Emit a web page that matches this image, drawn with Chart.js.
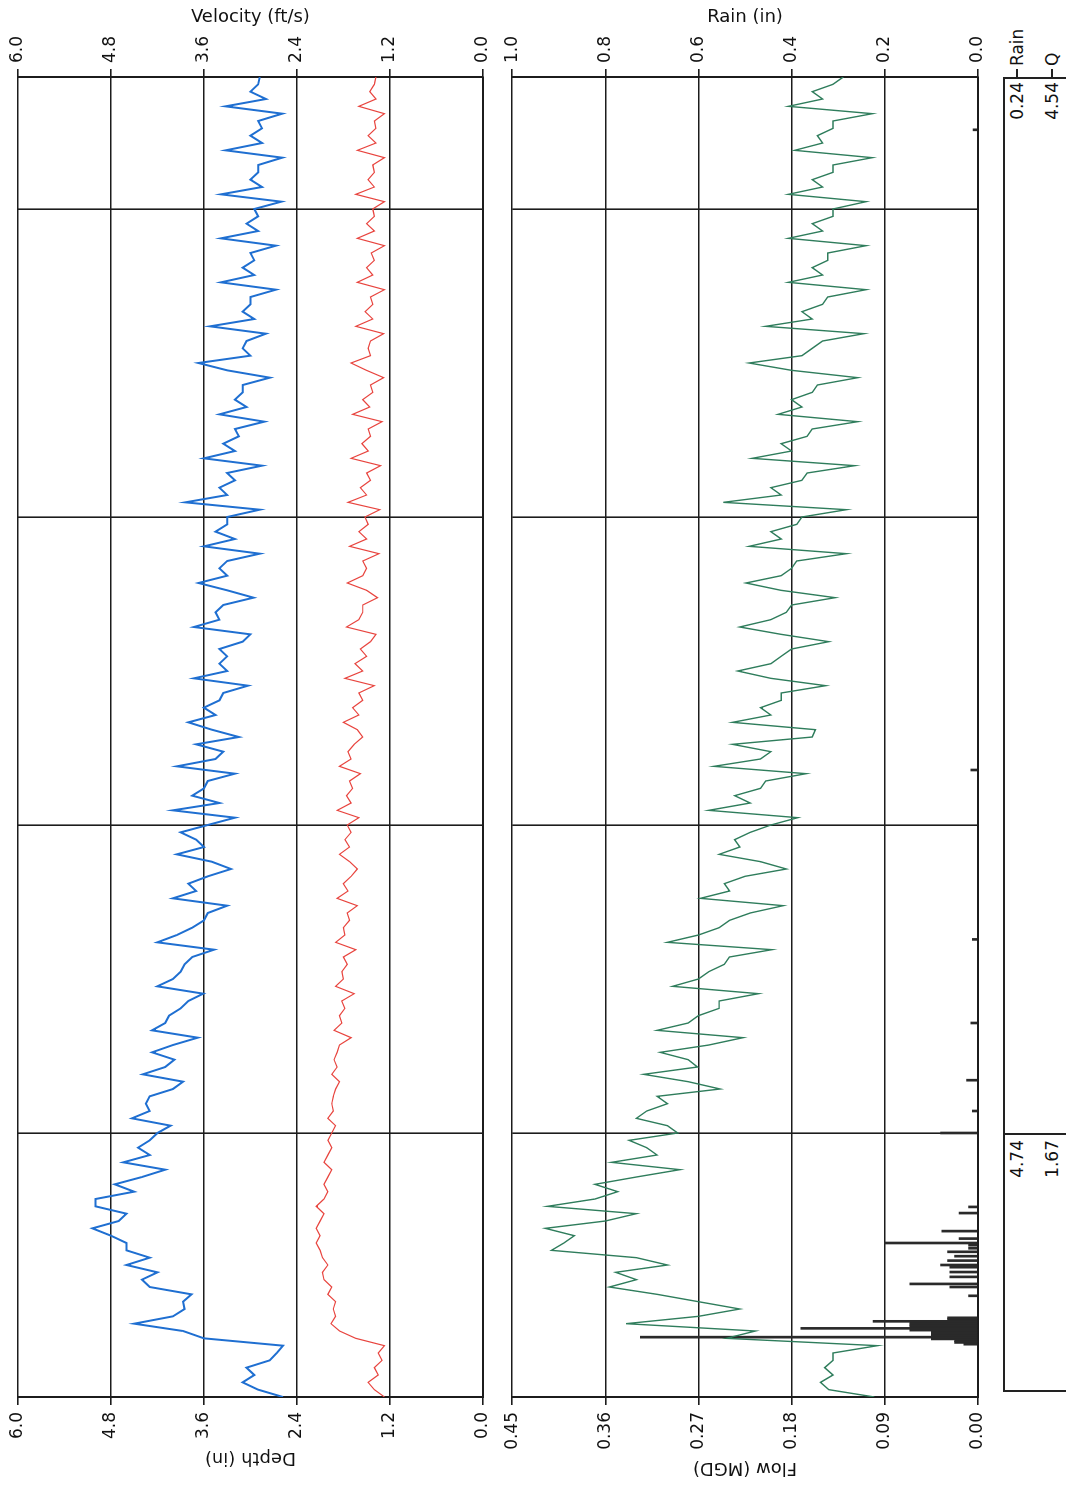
<!DOCTYPE html>
<html>
<head>
<meta charset="utf-8">
<script src="https://cdn.jsdelivr.net/npm/chart.js@4.4.1/dist/chart.umd.min.js"></script>
<style>
html, body { margin:0; padding:0; background:#fff; overflow:hidden; }
/* the scan is rotated: draw it landscape, then turn the whole page */
#page { position:absolute; left:0; top:0; width:1487px; height:1066px; transform-origin:0 0; transform:translateY(1487px) rotate(-90deg); background:#fff; overflow:hidden; }
#top, #bottom { position:absolute; left:0; }
#top { top:0; }
#bottom { top:495px; }
#totals { position:absolute; left:95px; top:1003px; width:1315px; height:90px; border:2px solid #222; box-sizing:border-box; }
#divider { position:absolute; left:352px; top:1003px; width:2px; height:70px; background:#222; }
.txt { position:absolute; font:17px "DejaVu Sans", sans-serif; color:#111; line-height:20px; white-space:nowrap; }
.r { text-align:right; width:70px; }
.tk { position:absolute; height:2px; width:8px; background:#222; }
</style>
</head>
<body>
<div id="page">
  <div id="top"><canvas id="depthChart" width="1487" height="500"></canvas></div>
  <div id="bottom"><canvas id="flowChart" width="1487" height="500"></canvas></div>
  <div id="totals"></div>
  <div id="divider"></div>
  <div class="txt r" style="left:277px;top:1007px">4.74</div>
  <div class="txt r" style="left:277px;top:1042px">1.67</div>
  <div class="txt r" style="left:1335px;top:1007px">0.24</div>
  <div class="txt r" style="left:1335px;top:1042px">4.54</div>
  <div class="tk" style="left:1410px;top:1016px"></div>
  <div class="tk" style="left:1410px;top:1051px"></div>
  <div class="txt" style="left:1421px;top:1007px">Rain</div>
  <div class="txt" style="left:1421px;top:1042px">Q</div>
</div>
<script>
// samples every 4 hours, day 0 .. day 30
var sampleHours = 4;
var weekTicks = [6, 13, 20, 27];

var depthTicks = [0, 1.2, 2.4, 3.6, 4.8, 6.0];
var flowTicks = [0, 0.09, 0.18, 0.27, 0.36, 0.45];
var rainTicks = [0, 0.2, 0.4, 0.6, 0.8, 1.0];

var depth = [
  2.58, 2.9, 3.1, 2.95, 3.05, 2.75,
  2.66, 2.58, 3.6, 3.87, 4.5, 4.0,
  3.85, 3.87, 3.76, 4.3, 4.4, 4.2,
  4.6, 4.3, 4.6, 4.6, 4.8, 5.04,
  4.7, 4.6, 5.0, 5.0, 4.5, 4.75,
  4.4, 4.1, 4.64, 4.3, 4.45, 4.3,
  4.2, 4.03, 4.53, 4.3, 4.35, 4.3,
  4.0, 3.87, 4.39, 4.1, 3.98, 4.27,
  4.0, 3.68, 4.27, 4.1, 4.05, 3.9,
  3.8, 3.61, 4.2, 4.0, 3.9, 3.85,
  3.75, 3.47, 4.2, 3.95, 3.75, 3.6,
  3.55, 3.3, 4.0, 3.7, 3.8, 3.55,
  3.25, 3.5, 3.95, 3.6, 3.7, 3.9,
  3.55, 3.2, 4.0, 3.4, 3.75, 3.6,
  3.55, 3.2, 3.95, 3.45, 3.35, 3.7,
  3.15, 3.5, 3.8, 3.45, 3.6, 3.4,
  3.35, 3.03, 3.73, 3.3, 3.4, 3.3,
  3.4, 3.1, 3.0, 3.73, 3.4, 3.45,
  3.35, 2.96, 3.3, 3.67, 3.3, 3.4,
  3.3, 2.88, 3.6, 3.2, 3.45, 3.3,
  3.3, 2.88, 3.84, 3.3, 3.4, 3.2,
  3.3, 2.85, 3.6, 3.2, 3.35, 3.15,
  3.2, 2.82, 3.4, 3.05, 3.2, 3.1,
  3.1, 2.75, 3.3, 3.67, 3.0, 3.1,
  3.05, 2.8, 3.52, 2.95, 3.1, 3.0,
  3.0, 2.67, 3.38, 2.95, 3.1, 2.95,
  3.0, 2.67, 3.38, 2.9, 3.05, 2.9,
  2.95, 2.6, 3.38, 2.85, 3.0, 2.9,
  2.9, 2.59, 3.32, 2.85, 3.0, 2.85,
  2.9, 2.59, 3.32, 2.8, 3.0, 2.9,
  2.88
];

var velocity = [
  1.27, 1.4, 1.48, 1.35, 1.4, 1.3,
  1.35, 1.27, 1.64, 1.85, 1.96, 1.9,
  1.93, 1.9, 2.0, 1.95, 2.05, 2.07,
  2.0, 2.07, 2.1, 2.15, 2.1, 2.15,
  2.1, 2.05, 2.15, 2.05, 2.0, 2.05,
  2.0, 1.95, 2.05, 2.0, 1.95, 2.0,
  1.95, 1.9, 2.0, 1.93, 1.95, 1.93,
  1.9, 1.85, 1.95, 1.88, 1.92, 1.88,
  1.85, 1.7, 1.92, 1.82, 1.85, 1.78,
  1.82, 1.66, 1.9, 1.8, 1.82, 1.75,
  1.8, 1.64, 1.9, 1.78, 1.8, 1.72,
  1.75, 1.62, 1.88, 1.74, 1.8, 1.7,
  1.62, 1.72, 1.85, 1.72, 1.78, 1.7,
  1.75, 1.6, 1.88, 1.7, 1.76, 1.68,
  1.72, 1.58, 1.85, 1.7, 1.74, 1.66,
  1.55, 1.62, 1.8, 1.6, 1.68, 1.55,
  1.6, 1.4, 1.78, 1.55, 1.65, 1.5,
  1.58, 1.45, 1.38, 1.76, 1.6, 1.55,
  1.55, 1.36, 1.5, 1.75, 1.55, 1.5,
  1.55, 1.34, 1.72, 1.5, 1.6, 1.48,
  1.52, 1.33, 1.74, 1.5, 1.58, 1.45,
  1.5, 1.32, 1.7, 1.48, 1.56, 1.45,
  1.48, 1.3, 1.68, 1.46, 1.55, 1.42,
  1.45, 1.28, 1.5, 1.7, 1.45, 1.48,
  1.45, 1.28, 1.64, 1.42, 1.52, 1.42,
  1.45, 1.27, 1.62, 1.42, 1.5, 1.4,
  1.44, 1.27, 1.62, 1.4, 1.5, 1.4,
  1.42, 1.27, 1.64, 1.4, 1.48, 1.4,
  1.42, 1.27, 1.62, 1.38, 1.48, 1.38,
  1.4, 1.27, 1.6, 1.38, 1.46, 1.4,
  1.38
];

var flow = [
  0.10, 0.144, 0.152, 0.14, 0.148, 0.14,
  0.14, 0.097, 0.243, 0.215, 0.34, 0.27,
  0.23, 0.27, 0.31, 0.356, 0.33, 0.35,
  0.30, 0.33, 0.412, 0.40, 0.39, 0.418,
  0.36, 0.33, 0.416, 0.37, 0.348, 0.37,
  0.33, 0.288, 0.354, 0.31, 0.32, 0.337,
  0.29, 0.30, 0.33, 0.32, 0.30, 0.31,
  0.249, 0.28, 0.323, 0.271, 0.28, 0.307,
  0.26, 0.227, 0.31, 0.28, 0.27, 0.25,
  0.25, 0.212, 0.295, 0.27, 0.26, 0.245,
  0.24, 0.199, 0.30, 0.27, 0.25, 0.24,
  0.22, 0.188, 0.268, 0.24, 0.245, 0.225,
  0.185, 0.21, 0.25, 0.23, 0.235, 0.22,
  0.20, 0.174, 0.26, 0.22, 0.235, 0.21,
  0.205, 0.166, 0.255, 0.21, 0.20, 0.237,
  0.16, 0.157, 0.237, 0.20, 0.21, 0.19,
  0.19, 0.147, 0.20, 0.232, 0.20, 0.19,
  0.18, 0.144, 0.19, 0.23, 0.20, 0.185,
  0.18, 0.138, 0.19, 0.224, 0.19, 0.18,
  0.175, 0.127, 0.221, 0.19, 0.20, 0.175,
  0.17, 0.127, 0.246, 0.19, 0.20, 0.17,
  0.165, 0.119, 0.218, 0.18, 0.19, 0.165,
  0.16, 0.116, 0.193, 0.17, 0.18, 0.16,
  0.155, 0.116, 0.18, 0.221, 0.17, 0.16,
  0.15, 0.11, 0.205, 0.16, 0.17, 0.15,
  0.145, 0.108, 0.183, 0.15, 0.16, 0.145,
  0.145, 0.108, 0.183, 0.15, 0.16, 0.14,
  0.14, 0.108, 0.183, 0.15, 0.16, 0.14,
  0.14, 0.102, 0.177, 0.15, 0.155, 0.14,
  0.14, 0.102, 0.183, 0.15, 0.16, 0.14,
  0.13
];

var rainDays = [1.20, 1.24, 1.28, 1.32, 1.36, 1.40, 1.44, 1.48, 1.52, 1.56, 1.60, 1.64, 1.68, 1.72, 1.76, 1.80,
  2.30, 2.50, 2.57, 2.73, 2.84, 2.95, 3.00, 3.10, 3.20, 3.30, 3.38, 3.45, 3.50, 3.60, 3.77,
  4.18, 4.32, 6.00, 6.50, 7.20, 8.50, 10.40, 14.25, 28.80];
var rainInches = [0.03, 0.05, 0.05, 0.10, 0.725, 0.10, 0.10, 0.10, 0.146, 0.38, 0.146, 0.146, 0.146, 0.225, 0.065, 0.065,
  0.02, 0.06, 0.146, 0.06, 0.06, 0.06, 0.08, 0.065, 0.05, 0.065, 0.02, 0.02, 0.2, 0.04, 0.077,
  0.04, 0.02, 0.08, 0.012, 0.024, 0.015, 0.012, 0.015, 0.01];

function series(values) {
    return values.map(function(v, i) { return { x: i * sampleHours / 24, y: v }; });
}

var ink = '#1c1c1c';
var tickFont = { family: 'DejaVu Sans', size: 17 };
var titleFont = { family: 'DejaVu Sans', size: 18 };

function timeAxis() {
    return {
        type: 'linear', min: 0, max: 30, offset: false,
        afterBuildTicks: function(s) { s.ticks = weekTicks.map(function(v) { return { value: v }; }); },
        ticks: { display: false },
        grid: { color: ink, lineWidth: 1.6, drawTicks: false, offset: false },
        border: { color: ink, width: 2 },
        afterFit: function(s) { s.height = 0; }
    };
}

function valueAxis(pos, title, ticks, decimals, titlePad) {
    return {
        type: 'linear', position: pos, min: ticks[0], max: ticks[ticks.length - 1],
        afterBuildTicks: function(s) { s.ticks = ticks.map(function(v) { return { value: v }; }); },
        ticks: { color: '#111', font: tickFont, padding: pos == 'left' ? 7 : 6,
                 callback: function(v) { return Number(v).toFixed(decimals); } },
        grid: { color: ink, lineWidth: 1.6, tickLength: 8, drawOnChartArea: pos == 'left' },
        border: { color: ink, width: 2 },
        title: { display: true, text: title, color: '#111', font: titleFont, padding: { top: titlePad, bottom: 0 } },
        afterFit: function(s) { s.width = pos == 'left' ? 90 : 77; }
    };
}

var common = {
    responsive: false,
    animation: false,
    events: [],
    layout: { padding: { top: 18, bottom: 13, left: 0, right: 0 } },
    plugins: { legend: { display: false }, tooltip: { enabled: false } },
    elements: { point: { radius: 0 } }
};

new Chart(document.getElementById('depthChart'), {
    type: 'line',
    data: {
        datasets: [
            { label: 'Depth', data: series(depth), yAxisID: 'y', borderColor: '#1f6fd1', borderWidth: 2, tension: 0 },
            { label: 'Velocity', data: series(velocity), yAxisID: 'y2', borderColor: '#e8453f', borderWidth: 1.2, tension: 0 }
        ]
    },
    options: Object.assign({}, common, {
        scales: {
            x: timeAxis(),
            y: valueAxis('left', 'Depth (in)', depthTicks, 1, 19),
            y2: valueAxis('right', 'Velocity (ft/s)', depthTicks, 1, 7)
        }
    })
});

new Chart(document.getElementById('flowChart'), {
    type: 'line',
    data: {
        datasets: [
            { label: 'Flow', data: series(flow), yAxisID: 'y', borderColor: '#2f7d5c', borderWidth: 1.4, tension: 0 },
            { type: 'bar', label: 'Rain', yAxisID: 'y2', backgroundColor: '#2a2a2a', barThickness: 2, grouped: false,
              data: rainDays.map(function(d, i) { return { x: d, y: rainInches[i] }; }) }
        ]
    },
    options: Object.assign({}, common, {
        layout: { padding: { top: 17, bottom: 17, left: 0, right: 0 } },
        scales: {
            x: timeAxis(),
            y: valueAxis('left', 'Flow (MGD)', flowTicks, 2, 9),
            y2: valueAxis('right', 'Rain (in)', rainTicks, 1, 7)
        }
    })
});
</script>
</body>
</html>
